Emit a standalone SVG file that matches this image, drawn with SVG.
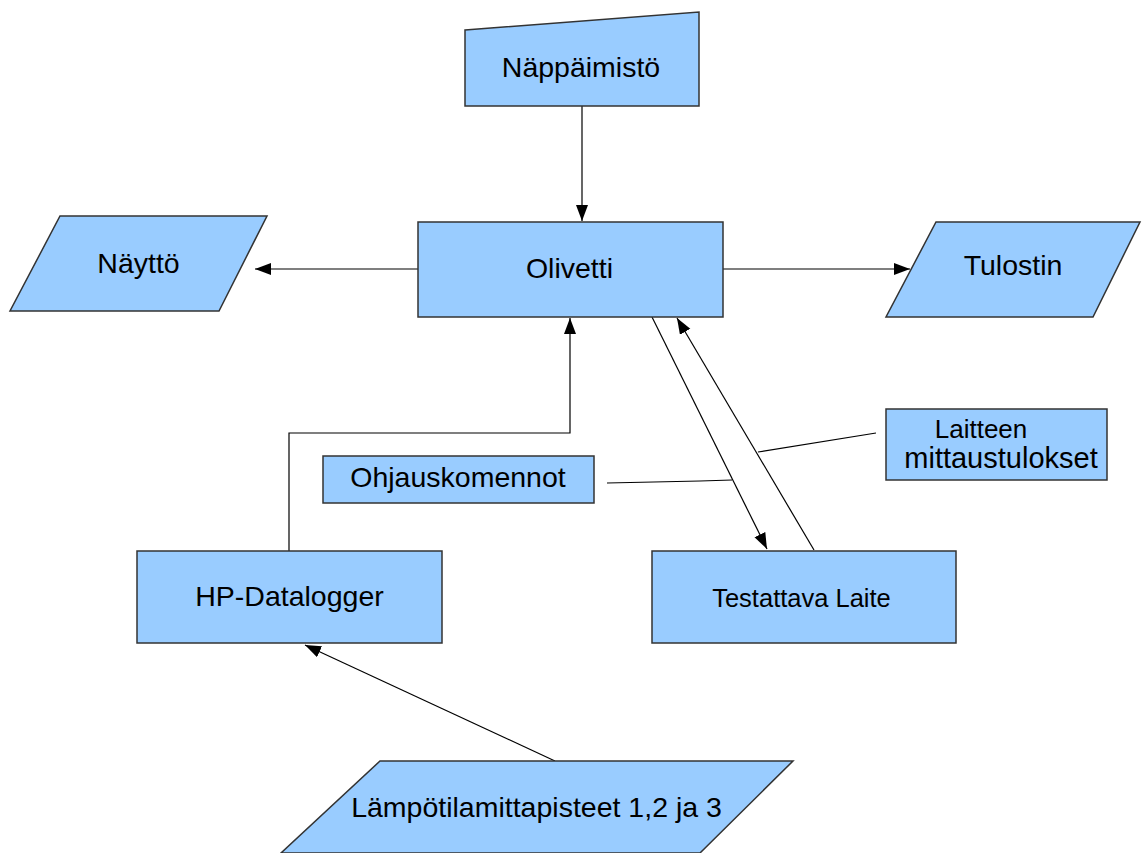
<svg xmlns="http://www.w3.org/2000/svg" width="1143" height="853" viewBox="0 0 1143 853">
<style>
.shape{fill:#99ccff;stroke:#333333;stroke-width:1.5}
.t{font-family:"Liberation Sans",Arial,sans-serif;font-size:28.5px;fill:#000;text-anchor:middle}
.line{fill:none;stroke:#000;stroke-width:1.2}
</style>
<defs>
<marker id="arr" markerUnits="userSpaceOnUse" markerWidth="18" markerHeight="14" refX="16" refY="6" orient="auto">
<path d="M0,0 L16,6 L0,12 Z" fill="#000"/>
</marker>
</defs>
<rect width="1143" height="853" fill="#fff"/>
<g id="connectors">
<line class="line" x1="582" y1="106" x2="582" y2="221" marker-end="url(#arr)"/>
<line class="line" x1="418" y1="269" x2="255" y2="269" marker-end="url(#arr)"/>
<line class="line" x1="723" y1="269" x2="910" y2="269" marker-end="url(#arr)"/>
<polyline class="line" points="289,551 289,433 570,433 570,318" marker-end="url(#arr)"/>
<line class="line" x1="652" y1="317" x2="767" y2="549" marker-end="url(#arr)"/>
<line class="line" x1="814" y1="550" x2="677" y2="318" marker-end="url(#arr)"/>
<line class="line" x1="555" y1="761" x2="305" y2="645" marker-end="url(#arr)"/>
<polyline class="line" points="607,483 700,481 732,480"/>
<line class="line" x1="758" y1="452" x2="876" y2="433"/>
</g>
<g id="nappaimisto">
<polygon class="shape" points="465,30 699,12 699,106 465,106"/>
<text class="t" x="581" y="77">Näppäimistö</text>
</g>
<g id="olivetti">
<rect class="shape" x="418" y="222" width="305" height="95"/>
<text class="t" x="569.5" y="278">Olivetti</text>
</g>
<g id="naytto">
<polygon class="shape" points="60,216 267,216 219,311 10,311"/>
<text class="t" x="138.5" y="273">Näyttö</text>
</g>
<g id="tulostin">
<polygon class="shape" points="936,222 1140,222 1093,317 886,317"/>
<text class="t" x="1013" y="275">Tulostin</text>
</g>
<g id="ohjauskomennot">
<rect class="shape" x="323" y="456" width="271" height="47"/>
<text class="t" x="458" y="487">Ohjauskomennot</text>
</g>
<g id="laitteen">
<rect class="shape" x="886" y="409" width="221" height="71"/>
<text class="t" x="981" y="438" style="font-size:26px">Laitteen</text>
<text class="t" x="1001" y="468" style="font-size:29px">mittaustulokset</text>
</g>
<g id="hp-datalogger">
<rect class="shape" x="137" y="551" width="305" height="92"/>
<text class="t" x="289.5" y="606">HP-Datalogger</text>
</g>
<g id="testattava">
<rect class="shape" x="652" y="551" width="304" height="92"/>
<text class="t" x="801.5" y="607" style="font-size:25.5px">Testattava Laite</text>
</g>
<g id="lampotila">
<polygon class="shape" points="380,761 793,761 700,853 281,853"/>
<text class="t" x="536.5" y="817">Lämpötilamittapisteet 1,2 ja 3</text>
</g>
</svg>
